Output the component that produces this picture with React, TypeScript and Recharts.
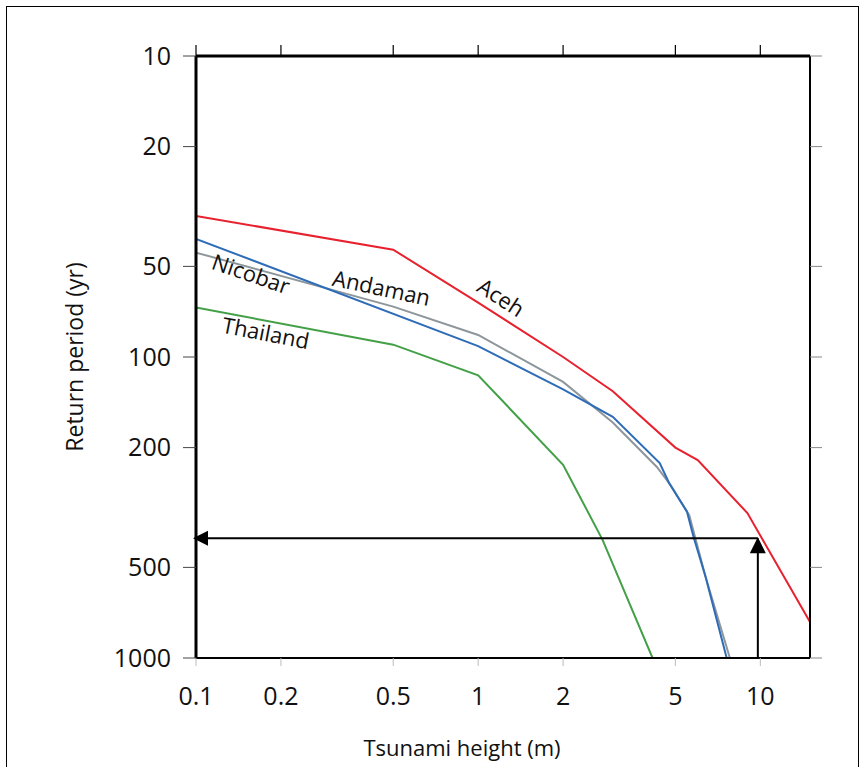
import { ComposedChart, Line, XAxis, YAxis, ReferenceDot } from "recharts"

// tick values
const xTicks = [0.1, 0.2, 0.5, 1, 2, 5, 10]
const yTicks = [10, 20, 50, 100, 200, 500, 1000]

// tsunami height (m) vs return period (yr)
const acehX = [0.1, 0.5, 1, 2, 3, 5, 6, 9, 15]
const acehY = [34, 44, 66, 100, 130, 200, 220, 330, 760]

const andamanX = [0.1, 0.5, 1, 2, 3, 4.3, 4.8, 5.6, 6.4, 7.8]
const andamanY = [45, 68, 84.5, 121, 165, 232, 266, 335, 538, 1000]

const nicobarX = [0.1, 1, 2, 3, 4.4, 4.75, 5.5, 5.8, 6.4, 7.6]
const nicobarY = [40.5, 92, 128, 158, 225, 262, 327, 396, 538, 1000]

const thailandX = [0.1, 0.5, 1, 2, 2.76, 4.15]
const thailandY = [68.5, 91, 115, 228, 405, 1000]

// 400-yr marker
const markerHeight = 9.8
const markerPeriod = 400

const toPoints = (xs: number[], ys: number[]) => xs.map((x, i) => ({ x, y: ys[i] }))

const aceh = toPoints(acehX, acehY)
const andaman = toPoints(andamanX, andamanY)
const nicobar = toPoints(nicobarX, nicobarY)
const thailand = toPoints(thailandX, thailandY)
const hArrow = toPoints([xTicks[0], markerHeight], [markerPeriod, markerPeriod])
const vArrow = toPoints([markerHeight, markerHeight], [yTicks[yTicks.length - 1], markerPeriod])

const font = "'Open Sans', 'Noto Sans', sans-serif"
const fmt = (v: number) => String(v)
const blank = () => ""

const curveLabel = (text: string, angle: number) => (p: any) => (
  <text
    x={p.cx}
    y={p.cy}
    transform={`rotate(${angle}, ${p.cx}, ${p.cy})`}
    textAnchor="middle"
    dominantBaseline="central"
    fontSize={22}
    fontFamily={font}
    fill="#111"
  >
    {text}
  </text>
)

const leftHead = (p: any) => (
  <polygon points={`${p.cx - 3},${p.cy} ${p.cx + 12},${p.cy - 7.5} ${p.cx + 12},${p.cy + 7.5}`} fill="#000" />
)
const upHead = (p: any) => (
  <polygon points={`${p.cx},${p.cy - 1} ${p.cx - 8},${p.cy + 15} ${p.cx + 8},${p.cy + 15}`} fill="#000" />
)

export default function App() {
  return (
    <div style={{ position: "fixed", left: 0, top: 0, width: 867, height: 767, background: "#fff" }}>
      <div
        style={{
          position: "absolute",
          left: 6,
          top: 6,
          width: 851,
          height: 770,
          border: "1.5px solid #000",
          borderBottom: "none",
        }}
      />
      <ComposedChart
        width={867}
        height={767}
        margin={{ top: 55, right: 56, bottom: 0, left: 0 }}
        style={{ position: "absolute", left: 0, top: 0 }}
      >
        <XAxis
          xAxisId="bottom"
          dataKey="x"
          type="number"
          scale="log"
          domain={[0.1, 15]}
          ticks={xTicks}
          allowDataOverflow
          height={109}
          tickSize={8}
          tickMargin={21}
          tickFormatter={fmt}
          tick={{ fill: "#111", fontSize: 25, fontFamily: font }}
          axisLine={{ stroke: "#000", strokeWidth: 2 }}
          tickLine={{ stroke: "#bbb" }}
          label={{ value: "Tsunami height (m)", position: "center", dx: -41, dy: 36, fill: "#111", fontSize: 22, fontFamily: font }}
        />
        <XAxis
          xAxisId="top"
          orientation="top"
          dataKey="x"
          type="number"
          scale="log"
          domain={[0.1, 15]}
          ticks={xTicks}
          allowDataOverflow
          interval={0}
          height={1}
          tickSize={11}
          tickFormatter={blank}
          tick={{ fontSize: 1 }}
          axisLine={{ stroke: "#000", strokeWidth: 3 }}
          tickLine={{ stroke: "#000", strokeWidth: 1.2 }}
        />
        <YAxis
          yAxisId="left"
          type="number"
          scale="log"
          domain={[10, 1000]}
          ticks={yTicks}
          reversed
          allowDataOverflow
          width={196}
          tickSize={13}
          tickMargin={12}
          tick={{ fill: "#111", fontSize: 25, fontFamily: font }}
          axisLine={{ stroke: "#000", strokeWidth: 3 }}
          tickLine={{ stroke: "#444" }}
          label={{ value: "Return period (yr)", angle: -90, position: "center", dx: -23, fill: "#111", fontSize: 23, fontFamily: font }}
        />
        <YAxis
          yAxisId="right"
          orientation="right"
          type="number"
          scale="log"
          domain={[10, 1000]}
          ticks={yTicks}
          reversed
          allowDataOverflow
          width={1}
          tickSize={12}
          tickFormatter={blank}
          tick={{ fontSize: 1 }}
          axisLine={{ stroke: "#000", strokeWidth: 2 }}
          tickLine={{ stroke: "#888" }}
        />

        <Line xAxisId="bottom" yAxisId="left" data={thailand} dataKey="y" stroke="#43a047" strokeWidth={2} dot={false} isAnimationActive={false} />
        <Line xAxisId="bottom" yAxisId="left" data={andaman} dataKey="y" stroke="#8d969b" strokeWidth={2} dot={false} isAnimationActive={false} />
        <Line xAxisId="bottom" yAxisId="left" data={nicobar} dataKey="y" stroke="#2e6cb8" strokeWidth={2} dot={false} isAnimationActive={false} />
        <Line xAxisId="bottom" yAxisId="left" data={aceh} dataKey="y" stroke="#e8212e" strokeWidth={2} dot={false} isAnimationActive={false} />

        <Line xAxisId="bottom" yAxisId="left" data={hArrow} dataKey="y" stroke="#000" strokeWidth={2} dot={false} isAnimationActive={false} />
        <Line xAxisId="bottom" yAxisId="left" data={vArrow} dataKey="y" stroke="#000" strokeWidth={2} dot={false} isAnimationActive={false} />
        <ReferenceDot xAxisId="bottom" yAxisId="left" x={xTicks[0]} y={markerPeriod} shape={leftHead} ifOverflow="visible" />
        <ReferenceDot xAxisId="bottom" yAxisId="left" x={markerHeight} y={markerPeriod} shape={upHead} ifOverflow="visible" />

        <ReferenceDot xAxisId="bottom" yAxisId="left" x={1.21} y={63} shape={curveLabel("Aceh", 33)} ifOverflow="visible" />
        <ReferenceDot xAxisId="bottom" yAxisId="left" x={0.455} y={58.5} shape={curveLabel("Andaman", 12)} ifOverflow="visible" />
        <ReferenceDot xAxisId="bottom" yAxisId="left" x={0.157} y={52.6} shape={curveLabel("Nicobar", 19)} ifOverflow="visible" />
        <ReferenceDot xAxisId="bottom" yAxisId="left" x={0.177} y={82.6} shape={curveLabel("Thailand", 11)} ifOverflow="visible" />
      </ComposedChart>
    </div>
  )
}
